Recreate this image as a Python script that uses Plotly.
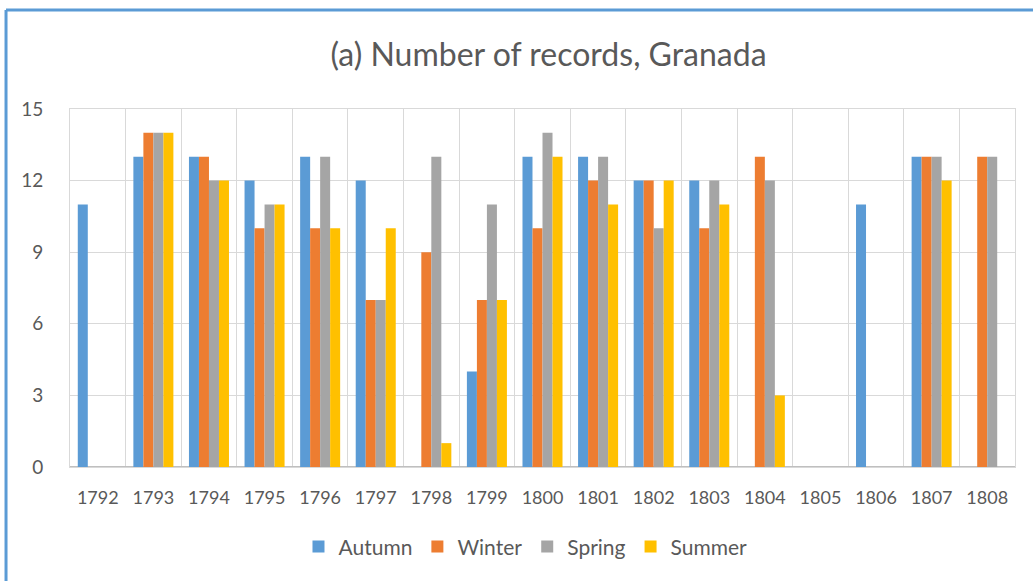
import plotly.graph_objects as go

years = [1792, 1793, 1794, 1795, 1796, 1797, 1798, 1799, 1800, 1801, 1802, 1803, 1804, 1805, 1806, 1807, 1808]
year_labels = [str(y) for y in years]
autumn = [11, 13, 13, 12, 13, 12, 0, 4, 13, 13, 12, 12, 0, 0, 11, 13, 0]
winter = [0, 14, 13, 10, 10, 7, 9, 7, 10, 12, 12, 10, 13, 0, 0, 13, 13]
spring = [0, 14, 12, 11, 13, 7, 13, 11, 14, 13, 10, 12, 12, 0, 0, 13, 13]
summer = [0, 14, 12, 11, 10, 10, 1, 7, 13, 11, 12, 11, 3, 0, 0, 12, 0]
series_names = ["Autumn", "Winter", "Spring", "Summer"]
series_colors = ["#5B9BD5", "#ED7D31", "#A5A5A5", "#FFC000"]
y_ticks = [0, 3, 6, 9, 12, 15]

FONT = "Lato, 'Open Sans', sans-serif"
TXT = "#595959"
GRID = "#D9D9D9"

fig = go.Figure()
for name, vals, col in zip(series_names, [autumn, winter, spring, summer], series_colors):
    fig.add_trace(go.Bar(
        x=years, y=vals, name=name,
        marker=dict(color=col, line=dict(width=0)),
    ))

fig.update_layout(
    width=1033, height=581,
    margin=dict(l=70, r=18, t=109, b=114),
    paper_bgcolor="white", plot_bgcolor="white",
    barmode="group", bargap=0.28, bargroupgap=0,
    title=dict(text="(a) Number of records, Granada", x=0.531, xanchor="center",
               y=1 - 55 / 581, yanchor="middle",
               font=dict(family=FONT, size=32, color=TXT)),
    font=dict(family=FONT, size=18, color=TXT),
    showlegend=True,
    legend=dict(orientation="h", x=0.482, xanchor="center", y=-0.223, yanchor="middle",
                font=dict(family=FONT, size=21, color=TXT), traceorder="normal",
                itemwidth=30),
    xaxis=dict(
        range=[1791.5, 1808.5], tickmode="array", tickvals=years, ticktext=year_labels,
        showgrid=False, ticks="outside", ticklen=14, tickcolor="rgba(0,0,0,0)",
        showline=True, mirror=True, linecolor=GRID, linewidth=1,
        tickfont=dict(family=FONT, size=18, color=TXT),
        minor=dict(tick0=1791.5, dtick=1, showgrid=True, gridcolor=GRID, gridwidth=1, ticks=""),
    ),
    yaxis=dict(
        range=[0, 15], tickmode="array", tickvals=y_ticks,
        showgrid=True, gridcolor=GRID, gridwidth=1,
        zeroline=True, zerolinecolor="#BFBFBF", zerolinewidth=1.5,
        showline=True, mirror=True, linecolor=GRID, linewidth=1,
        ticks="outside", ticklen=22, tickcolor="rgba(0,0,0,0)",
        tickfont=dict(family=FONT, size=19, color=TXT),
    ),
    shapes=[
        dict(type="line", xref="paper", yref="paper", x0=-0.0677, x1=1.03, y0=1.2765, y1=1.2765,
             line=dict(color="#5B9BD5", width=3)),
        dict(type="line", xref="paper", yref="paper", x0=-0.0677, x1=-0.0677, y0=1.2765, y1=-0.33,
             line=dict(color="#5B9BD5", width=3)),
    ],
)

fig.write_html("out.html", config={"displayModeBar": False},
               post_script="document.body.style.margin='0';")
